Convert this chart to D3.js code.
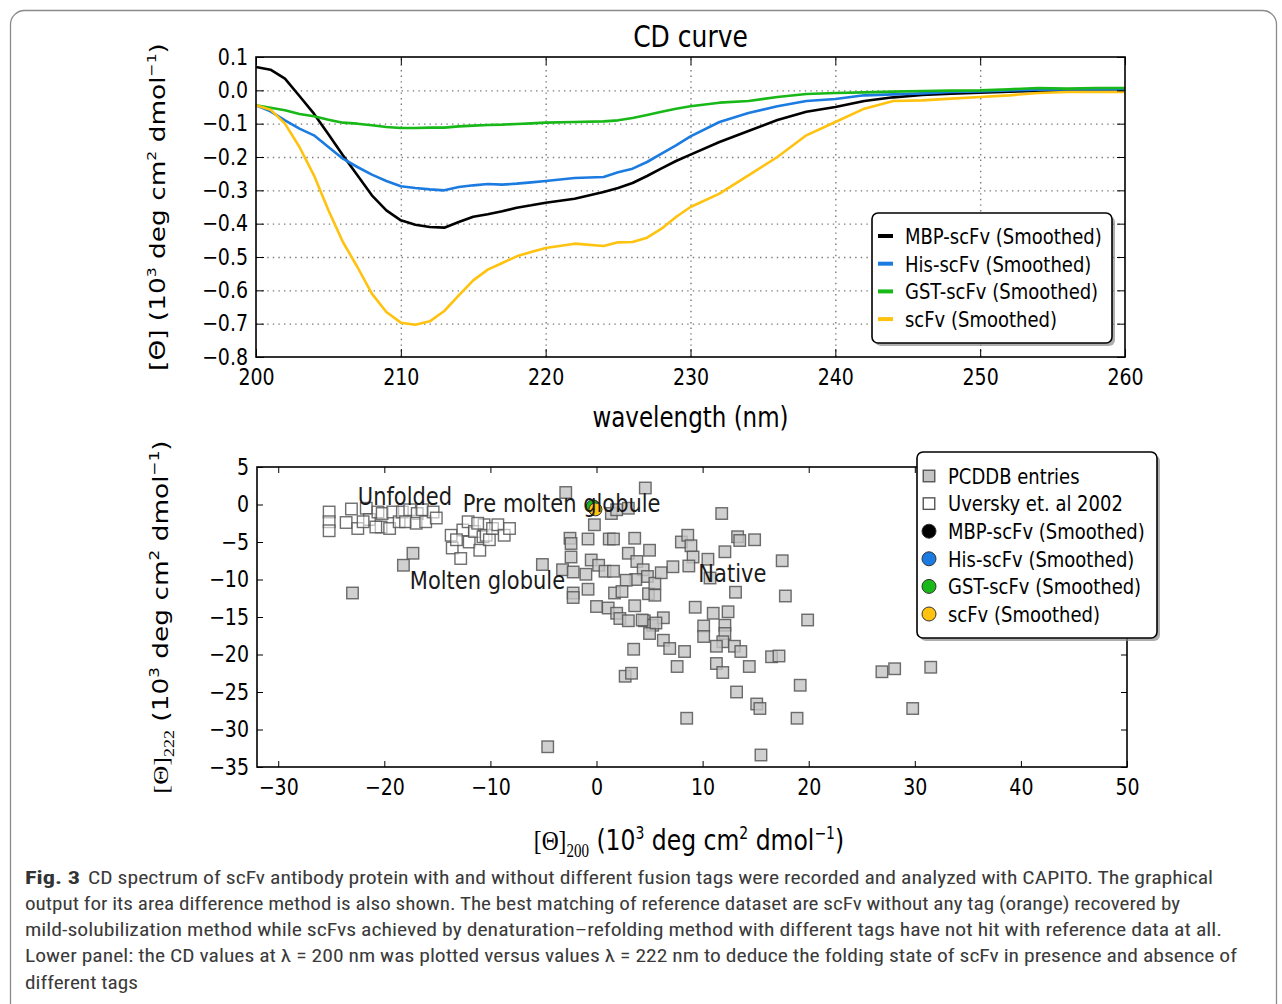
<!DOCTYPE html>
<html>
<head>
<meta charset="utf-8">
<script src="https://cdn.jsdelivr.net/npm/d3@7"></script>
<style>
  body { margin: 0; background: #fff; }
</style>
</head>
<body>
<script>
// ---- top panel data (CD curve) ----
var wavelength = [200, 201, 202, 203, 204, 205, 206, 207, 208, 209, 210, 211, 212, 213, 214, 215, 216, 217, 218, 219, 220,
  222, 224, 225, 226, 227, 228, 229, 230, 232, 234, 236, 238, 240, 242, 244, 246, 248, 250, 252, 254, 256, 258, 260];
var mbp = [0.070, 0.062, 0.035, -0.017, -0.070, -0.132, -0.195, -0.255, -0.315, -0.360, -0.390, -0.403, -0.410, -0.412, -0.395, -0.379, -0.372, -0.363, -0.352, -0.345, -0.337,
  -0.325, -0.305, -0.293, -0.278, -0.257, -0.234, -0.212, -0.193, -0.155, -0.122, -0.089, -0.064, -0.050, -0.032, -0.021, -0.014, -0.010, -0.007, -0.004, -0.002, -0.001, 0.000, 0.000];
var his = [-0.045, -0.063, -0.090, -0.115, -0.135, -0.170, -0.205, -0.230, -0.253, -0.272, -0.288, -0.293, -0.297, -0.300, -0.290, -0.285, -0.281, -0.283, -0.280, -0.276, -0.272,
  -0.263, -0.260, -0.246, -0.235, -0.215, -0.190, -0.165, -0.138, -0.095, -0.068, -0.048, -0.032, -0.026, -0.015, -0.012, -0.009, -0.005, -0.003, 0.000, 0.002, 0.003, 0.003, 0.003];
var gst = [-0.045, -0.052, -0.060, -0.071, -0.078, -0.088, -0.097, -0.100, -0.105, -0.110, -0.113, -0.113, -0.112, -0.112, -0.108, -0.106, -0.104, -0.103, -0.101, -0.099, -0.097,
  -0.095, -0.093, -0.090, -0.083, -0.074, -0.064, -0.055, -0.048, -0.037, -0.032, -0.020, -0.011, -0.008, -0.006, -0.004, -0.002, -0.001, 0.000, 0.003, 0.007, 0.005, 0.007, 0.007];
var scfv = [-0.045, -0.058, -0.100, -0.170, -0.255, -0.360, -0.455, -0.530, -0.610, -0.665, -0.697, -0.703, -0.693, -0.662, -0.615, -0.570, -0.538, -0.518, -0.498, -0.485, -0.473,
  -0.460, -0.467, -0.456, -0.455, -0.442, -0.415, -0.380, -0.350, -0.310, -0.255, -0.200, -0.135, -0.095, -0.055, -0.032, -0.030, -0.025, -0.020, -0.015, -0.008, -0.005, -0.005, -0.005];
var seriesNames = ["MBP-scFv (Smoothed)", "His-scFv (Smoothed)", "GST-scFv (Smoothed)", "scFv (Smoothed)"];
var xTicksTop = [200, 210, 220, 230, 240, 250, 260];
var yTicksTop = [0.1, 0.0, -0.1, -0.2, -0.3, -0.4, -0.5, -0.6, -0.7, -0.8];

// ---- bottom panel data (theta200 vs theta222) ----
var pcddbX = [-23.0, -18.2, -17.3, -5.1, -4.6, -2.9, 4.6, -0.2, -2.5, -2.4, -2.4, -3.2, -2.2, -2.2, -2.2, -0.8, -1.0, -0.8, -0.5, 0.0,
  0.2, 0.8, 1.2, 1.6, 1.6, 1.4, 1.9, 3.0, 3.6, 3.0, 3.8, 4.4, 4.8, 3.7, 2.8, 1.7, 2.4, 4.9, 5.5, 5.5,
  5.0, 1.1, 1.9, 2.2, 3.0, 3.6, 4.5, 5.3, 6.3, 5.0, 6.3, 6.9, 8.3, 7.6, 3.5, 2.7, 3.3, 8.5, 6.1, 7.2,
  8.0, 8.6, 8.9, 9.1, 8.7, 11.8, 13.3, 13.5, 14.9, 12.1, 10.5, 10.7, 13.1, 17.5, 17.8, 19.9, 9.3, 11.0, 12.4, 10.1,
  12.1, 10.1, 12.1, 11.9, 11.3, 13.0, 13.6, 11.3, 11.9, 14.4, 16.5, 17.2, 13.2, 19.2, 15.1, 15.4, 18.9, 15.5, 26.9, 28.1,
  31.5, 29.8, 5.6, 4.3];
var pcddbY = [-11.8, -8.1, -6.5, -8.0, -32.3, 1.6, 2.2, -2.7, -4.5, -5.2, -7.0, -8.7, -9.0, -11.8, -12.4, -4.6, -9.3, -11.3, -7.4, -13.6,
  -8.1, -8.9, -4.6, -4.6, -8.9, -1.2, -0.7, -0.5, -4.5, -6.5, -7.6, -8.7, -9.6, -10.0, -10.1, -11.8, -11.6, -11.9, -12.1, -10.5,
  -6.1, -13.8, -14.5, -15.2, -15.5, -13.5, -15.5, -16.1, -15.1, -17.2, -18.1, -19.2, -19.6, -21.6, -19.3, -22.9, -22.5, -28.5, -9.1, -8.3,
  -5.0, -4.1, -5.5, -7.0, -8.2, -1.2, -4.3, -4.8, -4.7, -6.3, -7.3, -9.8, -11.7, -7.5, -12.2, -15.4, -13.7, -14.5, -14.3, -16.2,
  -16.1, -17.6, -17.2, -18.3, -18.9, -18.9, -19.6, -21.2, -22.4, -21.6, -20.3, -20.2, -25.0, -24.1, -26.6, -27.2, -28.5, -33.4, -22.3, -21.9,
  -21.7, -27.2, -15.8, -15.4];
var uverskyX = [-25.2, -25.2, -25.2, -23.1, -23.6, -22.5, -21.7, -21.4, -20.6, -20.3, -20.2, -19.5, -19.2, -18.6, -18.3, -18.0, -17.6, -16.9, -17.0, -16.4,
  -16.1, -15.4, -15.1, -22.0, -20.8,
  -13.7, -13.6, -12.8, -12.6, -12.1, -12.0, -11.5, -11.0, -10.7, -10.6, -10.4, -10.1, -9.8, -9.3, -8.7, -8.2, -11.2, -13.2];
var uverskyY = [-1.0, -2.3, -3.5, -0.6, -2.4, -3.2, -0.5, -2.0, -1.0, -3.0, -1.2, -3.2, -1.0, -2.3, -1.0, -2.3, -0.7, -1.2, -2.5, -0.7,
  -2.3, -1.0, -1.8, -2.3, -3.0,
  -4.1, -5.8, -7.2, -3.4, -2.3, -5.0, -3.6, -6.1, -4.3, -2.7, -4.1, -4.7, -3.2, -2.7, -4.1, -3.2, -2.5, -4.7];
var sampleX = [-0.3, -0.3, -0.35, -0.1];   // MBP, His, GST, scFv
var sampleY = [-0.3, -0.3, -0.25, -0.65];
var regionNames = ["Unfolded", "Pre molten globule", "Molten globule", "Native"];
var regionX = [-22.5, -12.6, -17.6, 9.6];
var regionY = [0.0, -1.0, -11.3, -10.3];
var xTicksBot = [-30, -20, -10, 0, 10, 20, 30, 40, 50];
var yTicksBot = [5, 0, -5, -10, -15, -20, -25, -30, -35];
var scatterLegend = ["PCDDB entries", "Uversky et. al 2002"].concat(seriesNames);

var captionLines = [
  "CD spectrum of scFv antibody protein with and without different fusion tags were recorded and analyzed with CAPITO. The graphical",
  "output for its area difference method is also shown. The best matching of reference dataset are scFv without any tag (orange) recovered by",
  "mild-solubilization method while scFvs achieved by denaturation–refolding method with different tags have not hit with reference data at all.",
  "Lower panel: the CD values at λ = 200 nm was plotted versus values λ = 222 nm to deduce the folding state of scFv in presence and absence of",
  "different tags"
];

function main() {
  var FONT = "'DejaVu Sans', 'Liberation Sans', sans-serif";
  var SERIF = "'Liberation Serif', 'DejaVu Serif', serif";
  var SY = 1.2; // the figure is a bit stretched vertically
  var colors = ["#000000", "#1b7be0", "#18b818", "#ffc20e"];
  var series = [mbp, his, gst, scfv];

  var svg = d3.select("body").append("svg")
    .attr("width", 1282)
    .attr("height", 1004)
    .style("display", "block");

  // outer figure frame
  svg.append("rect")
    .attr("x", 10.5).attr("y", 10.5)
    .attr("width", 1266).attr("height", 1040)
    .attr("rx", 14)
    .attr("fill", "none")
    .attr("stroke", "#8a8a8a")
    .attr("stroke-width", 1.3);

  function stretchText(sel, x, y) {
    sel.attr("transform", "translate(" + x + "," + y + ") scale(1," + SY + ")");
  }

  function styleTicks(g) {
    g.select(".domain").remove();
    g.selectAll(".tick line").attr("stroke", "#000").attr("stroke-width", 1);
    g.selectAll(".tick text")
      .attr("font-family", FONT)
      .attr("font-size", 19)
      .attr("fill", "#000")
      .attr("transform", "scale(1," + SY + ")");
  }

  // ===================== top panel =====================
  var p1 = { left: 256, right: 1125, top: 57, bottom: 357 };
  var x1 = d3.scaleLinear().domain([200, 260]).range([p1.left, p1.right]);
  var y1 = d3.scaleLinear().domain([-0.8, 0.1]).range([p1.bottom, p1.top]);
  var g1 = svg.append("g");

  // dotted grid
  g1.append("g")
    .attr("transform", "translate(0," + p1.bottom + ")")
    .call(d3.axisBottom(x1).tickValues(xTicksTop.slice(1, -1)).tickSize(-(p1.bottom - p1.top)).tickFormat(""))
    .call(function (g) {
      g.select(".domain").remove();
      g.selectAll(".tick line").attr("stroke", "#7a7a7a").attr("stroke-width", 1.4).attr("stroke-dasharray", "1.4,4.2");
    });
  g1.append("g")
    .attr("transform", "translate(" + p1.left + ",0)")
    .call(d3.axisLeft(y1).tickValues(yTicksTop.slice(1, -1)).tickSize(-(p1.right - p1.left)).tickFormat(""))
    .call(function (g) {
      g.select(".domain").remove();
      g.selectAll(".tick line").attr("stroke", "#7a7a7a").attr("stroke-width", 1.4).attr("stroke-dasharray", "1.4,4.2");
    });

  // curves
  var line = d3.line()
    .x(function (d, i) { return x1(wavelength[i]); })
    .y(function (d) { return y1(d); });
  series.forEach(function (s, k) {
    g1.append("path")
      .datum(s)
      .attr("d", line)
      .attr("fill", "none")
      .attr("stroke", colors[k])
      .attr("stroke-width", 2.6)
      .attr("stroke-linejoin", "round");
  });

  // axes (inward ticks on every side)
  g1.append("g")
    .attr("transform", "translate(0," + p1.bottom + ")")
    .call(d3.axisBottom(x1).tickValues(xTicksTop).tickSize(-8).tickPadding(10).tickFormat(d3.format("d")))
    .call(styleTicks);
  g1.append("g")
    .attr("transform", "translate(0," + p1.top + ")")
    .call(d3.axisTop(x1).tickValues(xTicksTop).tickSize(-8).tickFormat(""))
    .call(styleTicks);
  g1.append("g")
    .attr("transform", "translate(" + p1.left + ",0)")
    .call(d3.axisLeft(y1).tickValues(yTicksTop).tickSize(-8).tickPadding(8).tickFormat(d3.format(".1f")))
    .call(styleTicks);
  g1.append("g")
    .attr("transform", "translate(" + p1.right + ",0)")
    .call(d3.axisRight(y1).tickValues(yTicksTop).tickSize(-8).tickFormat(""))
    .call(styleTicks);

  g1.append("rect")
    .attr("x", p1.left).attr("y", p1.top)
    .attr("width", p1.right - p1.left).attr("height", p1.bottom - p1.top)
    .attr("fill", "none").attr("stroke", "#000").attr("stroke-width", 1.6);

  // title and axis labels
  g1.append("text")
    .attr("font-family", FONT).attr("font-size", 25).attr("text-anchor", "middle")
    .text("CD curve")
    .call(stretchText, (p1.left + p1.right) / 2, 47);
  g1.append("text")
    .attr("font-family", FONT).attr("font-size", 23).attr("text-anchor", "middle")
    .text("wavelength (nm)")
    .call(stretchText, (p1.left + p1.right) / 2, 427);

  var yl1 = g1.append("text")
    .attr("font-family", FONT).attr("font-size", 22).attr("text-anchor", "middle")
    .attr("transform", "translate(165,207) rotate(-90) scale(" + SY + ",1)");
  yl1.append("tspan").text("[Θ] (10");
  yl1.append("tspan").attr("font-size", 13).attr("dy", -9).text("3");
  yl1.append("tspan").attr("dy", 9).text(" deg cm");
  yl1.append("tspan").attr("font-size", 13).attr("dy", -9).text("2");
  yl1.append("tspan").attr("dy", 9).text(" dmol");
  yl1.append("tspan").attr("font-size", 13).attr("dy", -9).text("−1");
  yl1.append("tspan").attr("dy", 9).text(")");

  // legend (top)
  var lg1 = g1.append("g").attr("transform", "translate(872,213)");
  lg1.append("rect").attr("x", 3).attr("y", 3).attr("width", 240).attr("height", 130).attr("rx", 6)
    .attr("fill", "#8c8c8c").attr("opacity", 0.7);
  lg1.append("rect").attr("width", 240).attr("height", 130).attr("rx", 6)
    .attr("fill", "#fff").attr("stroke", "#000").attr("stroke-width", 1.6);
  seriesNames.forEach(function (name, k) {
    var cy = 23 + k * 27.7;
    lg1.append("line").attr("x1", 6).attr("x2", 21).attr("y1", cy).attr("y2", cy)
      .attr("stroke", colors[k]).attr("stroke-width", 4);
    lg1.append("text").attr("font-family", FONT).attr("font-size", 18).text(name)
      .call(stretchText, 33, cy + 7.8);
  });

  // ===================== bottom panel =====================
  var p2 = { left: 257, right: 1127, top: 467, bottom: 767 };
  var x2 = d3.scaleLinear().domain([-32, 50]).range([p2.left, p2.right]);
  var y2 = d3.scaleLinear().domain([-35, 5]).range([p2.bottom, p2.top]);
  var g2 = svg.append("g");

  var sq = 11.5;
  var pcddb = d3.zip(pcddbX, pcddbY);
  g2.selectAll("rect.pcddb")
    .data(pcddb)
    .enter()
    .append("rect")
    .attr("class", "pcddb")
    .attr("x", function (d) { return x2(d[0]) - sq / 2; })
    .attr("y", function (d) { return y2(d[1]) - sq / 2; })
    .attr("width", sq).attr("height", sq)
    .attr("fill", "#c4c4c4").attr("fill-opacity", 0.8)
    .attr("stroke", "#555").attr("stroke-width", 1.4).attr("stroke-opacity", 0.85);

  var uversky = d3.zip(uverskyX, uverskyY);
  g2.selectAll("rect.uv")
    .data(uversky)
    .enter()
    .append("rect")
    .attr("class", "uv")
    .attr("x", function (d) { return x2(d[0]) - sq / 2; })
    .attr("y", function (d) { return y2(d[1]) - sq / 2; })
    .attr("width", sq).attr("height", sq)
    .attr("fill", "#fff").attr("fill-opacity", 0.55)
    .attr("stroke", "#555").attr("stroke-width", 1.4).attr("stroke-opacity", 0.85);

  g2.selectAll("circle.sample")
    .data(d3.zip(sampleX, sampleY))
    .enter()
    .append("circle")
    .attr("class", "sample")
    .attr("cx", function (d) { return x2(d[0]); })
    .attr("cy", function (d) { return y2(d[1]); })
    .attr("r", 6.5)
    .attr("fill", function (d, i) { return colors[i]; })
    .attr("stroke", "#333").attr("stroke-width", 1);

  regionNames.forEach(function (name, k) {
    g2.append("text")
      .attr("font-family", FONT).attr("font-size", 21).attr("fill", "#1a1a1a")
      .text(name)
      .call(stretchText, x2(regionX[k]), y2(regionY[k]));
  });

  g2.append("g")
    .attr("transform", "translate(0," + p2.bottom + ")")
    .call(d3.axisBottom(x2).tickValues(xTicksBot).tickSize(-6).tickPadding(10).tickFormat(d3.format("d")))
    .call(styleTicks);
  g2.append("g")
    .attr("transform", "translate(0," + p2.top + ")")
    .call(d3.axisTop(x2).tickValues(xTicksBot).tickSize(-6).tickFormat(""))
    .call(styleTicks);
  g2.append("g")
    .attr("transform", "translate(" + p2.left + ",0)")
    .call(d3.axisLeft(y2).tickValues(yTicksBot).tickSize(-6).tickPadding(8).tickFormat(d3.format("d")))
    .call(styleTicks);
  g2.append("g")
    .attr("transform", "translate(" + p2.right + ",0)")
    .call(d3.axisRight(y2).tickValues(yTicksBot).tickSize(-6).tickFormat(""))
    .call(styleTicks);

  g2.append("rect")
    .attr("x", p2.left).attr("y", p2.top)
    .attr("width", p2.right - p2.left).attr("height", p2.bottom - p2.top)
    .attr("fill", "none").attr("stroke", "#000").attr("stroke-width", 1.6);

  // axis labels with theta subscripts
  function thetaLabel(text, sub) {
    text.append("tspan").attr("font-family", SERIF).text("[Θ]");
    text.append("tspan").attr("font-family", SERIF).attr("font-size", 15).attr("dy", 6).text(sub);
    text.append("tspan").attr("dy", -6).text(" (10");
    text.append("tspan").attr("font-size", 14).attr("dy", -9).text("3");
    text.append("tspan").attr("dy", 9).text(" deg cm");
    text.append("tspan").attr("font-size", 14).attr("dy", -9).text("2");
    text.append("tspan").attr("dy", 9).text(" dmol");
    text.append("tspan").attr("font-size", 14).attr("dy", -9).text("−1");
    text.append("tspan").attr("dy", 9).text(")");
  }
  var xl2 = g2.append("text")
    .attr("font-family", FONT).attr("font-size", 23.5).attr("text-anchor", "middle")
    .call(stretchText, 689, 850);
  thetaLabel(xl2, "200");
  var yl2 = g2.append("text")
    .attr("font-family", FONT).attr("font-size", 22).attr("text-anchor", "middle")
    .attr("transform", "translate(168,617) rotate(-90) scale(" + SY + ",1)");
  thetaLabel(yl2, "222");

  // legend (bottom)
  var lg2 = g2.append("g").attr("transform", "translate(917,452)");
  lg2.append("rect").attr("x", 3).attr("y", 3).attr("width", 240).attr("height", 186).attr("rx", 6)
    .attr("fill", "#8c8c8c").attr("opacity", 0.7);
  lg2.append("rect").attr("width", 240).attr("height", 186).attr("rx", 6)
    .attr("fill", "#fff").attr("stroke", "#000").attr("stroke-width", 1.6);
  scatterLegend.forEach(function (name, k) {
    var cy = 24 + k * 27.6;
    if (k < 2) {
      lg2.append("rect").attr("x", 12 - sq / 2).attr("y", cy - sq / 2).attr("width", sq).attr("height", sq)
        .attr("fill", k === 0 ? "#c4c4c4" : "#fff").attr("stroke", "#555").attr("stroke-width", 1.4);
    } else {
      lg2.append("circle").attr("cx", 12).attr("cy", cy).attr("r", 7)
        .attr("fill", colors[k - 2]).attr("stroke", "#333").attr("stroke-width", 1);
    }
    lg2.append("text").attr("font-family", FONT).attr("font-size", 18).text(name)
      .call(stretchText, 31, cy + 7.8);
  });

  // ===================== caption =====================
  var CAP = "'Liberation Sans Narrow', 'Roboto Condensed', Roboto, sans-serif";
  var capBase = [884, 910, 936, 962, 989];
  var capLeft = [88, 25, 25, 25, 25];
  var capWidth = [1125, 1155, 1197, 1212, 113];
  svg.append("text")
    .attr("x", 25).attr("y", capBase[0])
    .attr("font-family", CAP).attr("font-size", 19).attr("font-weight", "bold").attr("fill", "#333")
    .attr("textLength", 55).attr("lengthAdjust", "spacingAndGlyphs")
    .text("Fig. 3");
  captionLines.forEach(function (t, k) {
    svg.append("text")
      .attr("x", capLeft[k]).attr("y", capBase[k])
      .attr("font-family", CAP).attr("font-size", 19).attr("fill", "#3a3a3a")
      .attr("textLength", capWidth[k]).attr("lengthAdjust", "spacingAndGlyphs")
      .text(t);
  });
}
document.addEventListener("DOMContentLoaded", main);
</script>
</body>
</html>
